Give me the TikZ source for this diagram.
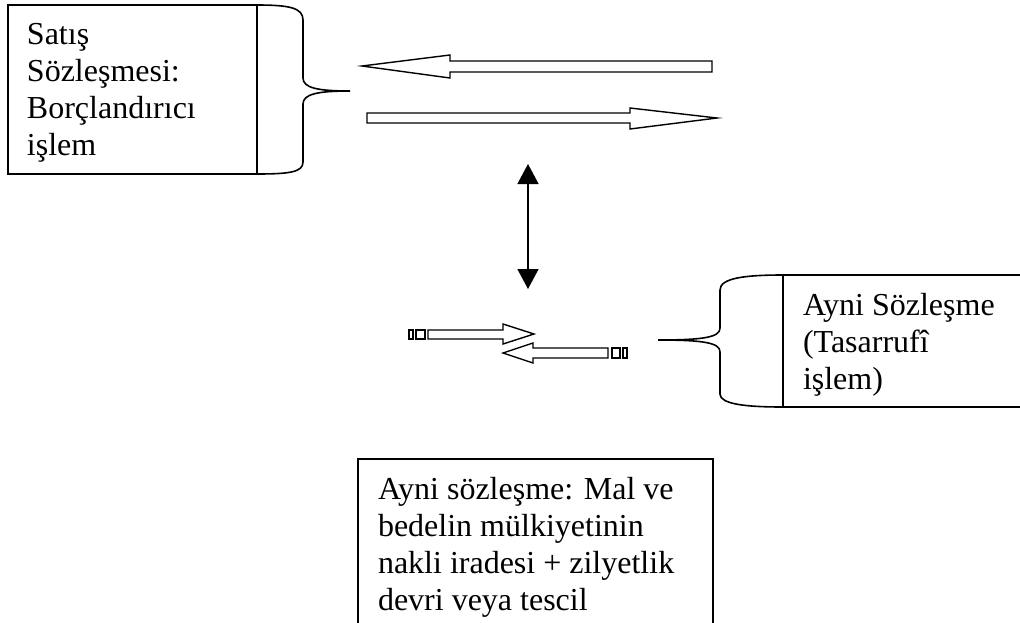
\documentclass[tikz,border=0pt]{standalone}
\usepackage{fontspec}
\setmainfont{Liberation Serif}
\usetikzlibrary{arrows.meta}
\begin{document}
\begin{tikzpicture}[x=1pt,y=-1pt,
  box/.style={draw,line width=1.4pt,inner sep=0pt,outer sep=0pt,anchor=north west},
  txt/.style={inner sep=0pt,outer sep=0pt,anchor=north west,align=left,font=\fontsize{32}{37}\selectfont},
  brace/.style={line width=1.6pt},
  blockarrow/.style={draw,line width=1.4pt,line join=miter},
  dbl/.style={line width=1.4pt,{Triangle[width=21pt,length=20pt]}-{Triangle[width=21pt,length=20pt]}}]
\useasboundingbox (0,0) rectangle (1020,622);
\clip (0,0) rectangle (1020,622);
\fill[white] (0,0) rectangle (1020,622);

% boxes
\node[box,minimum width=249pt,minimum height=169pt] (b1) at (8,5) {};
\node[box,minimum width=260pt,minimum height=132pt] (b2) at (783,275) {};
\node[box,minimum width=355pt,minimum height=200pt] (b3) at (358,459) {};

% texts
\node[txt] (t1) at (27,23.4) {Satış\\Sözleşmesi:\\Borçlandırıcı\\işlem};
\node[txt] (t2) at (803,293) {Ayni Sözleşme\\(Tasarrufî\\işlem)};
\node[txt] (t3) at (378,477) {Ayni sözleşme: Mal ve\\bedelin mülkiyetinin\\nakli iradesi + zilyetlik\\devri veya tescil};

% braces
\coordinate (lb) at (350,91);
\coordinate (rb) at (658,340);
\draw[brace] (b1.north east) .. controls (290,5) and (303,8) .. (303,20) -- (303,78)
  .. controls (303,88) and (318,91) .. (lb)
  .. controls (318,91) and (303,94) .. (303,104) -- (303,162)
  .. controls (303,172) and (290,174) .. (b1.south east);
\draw[brace] (b2.north west) .. controls (745,275) and (720,278) .. (720,290) -- (720,328)
  .. controls (720,337) and (705,340) .. (rb)
  .. controls (705,340) and (720,343) .. (720,352) -- (720,394)
  .. controls (720,404) and (745,407) .. (b2.south west);

% block arrows
\draw[blockarrow] (362,66) -- (450,55) -- (450,61) -- (712,61) -- (712,72) -- (450,72) -- (450,78) -- cycle;
\draw[blockarrow] (367,113) -- (630,113) -- (630,108) -- (717,118) -- (630,129) -- (630,123) -- (367,123) -- cycle;

% small arrows
\draw[blockarrow] (428,330) -- (503,330) -- (503,324) -- (534,334) -- (503,344) -- (503,339) -- (428,339) -- cycle;
\draw[blockarrow] (416,330) rectangle (425,339);
\draw[blockarrow] (409,330) rectangle (413,339);
\draw[blockarrow] (503,353) -- (533,343) -- (533,348) -- (608,348) -- (608,358) -- (533,358) -- (533,363) -- cycle;
\draw[blockarrow] (612,348) rectangle (620,358);
\draw[blockarrow] (623,348) rectangle (627,358);

% vertical double arrow
\coordinate (vt) at (528,164);
\coordinate (vb) at (528,289);
\draw[dbl] (vt) -- (vb);
\end{tikzpicture}
\end{document}
